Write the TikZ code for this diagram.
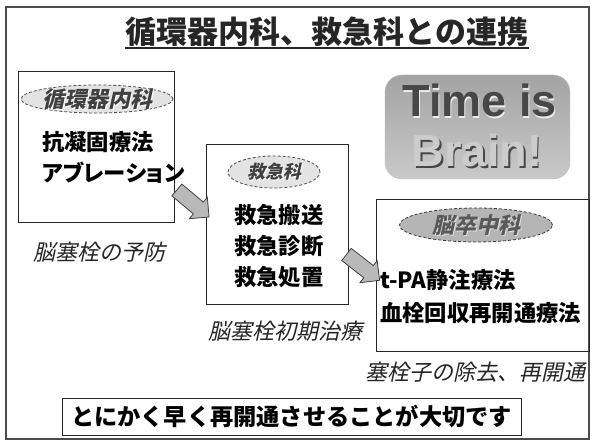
\documentclass[tikz,border=0pt]{standalone}
\usepackage{fontspec}
\setmainfont{Noto Sans CJK JP}
\newfontfamily\jpp[RawFeature=+palt]{Noto Sans CJK JP}
\newfontfamily\jpsl[FakeSlant=0.22]{Noto Sans CJK JP}
\newfontfamily\arb{Liberation Sans}
\usetikzlibrary{shapes.geometric,shapes.arrows,arrows.meta}
\tikzset{
  frame/.style={draw=gray!60!black, line width=2.5pt},
  box/.style={draw=black!85, line width=0.9pt, inner sep=0pt},
  item/.style={anchor=west, inner sep=0pt, font=\bfseries\fontsize{22.3}{22}\selectfont},
  label/.style={inner sep=0pt, font=\jpsl\fontsize{22}{22}\selectfont, text=black!85},
  dept/.style={ellipse, draw=gray!60!black, densely dashed, line width=0.8pt, inner sep=0pt},
  deptlbl/.style={inner sep=0pt, font=\jpsl\bfseries\fontsize{22}{22}\selectfont},
  tib/.style={inner sep=0pt, anchor=base, font=\arb\bfseries\fontsize{45}{45}\selectfont},
  blockarrow/.style={single arrow, draw=black!75, fill=gray!55, line width=0.8pt,
     minimum height=42pt, minimum width=28pt, single arrow head extend=6pt, inner sep=7pt}
}
\begin{document}
\begin{tikzpicture}[x=1pt,y=-1pt]
\useasboundingbox (0,0) rectangle (594,443);
\fill[white] (0,0) rectangle (594,443);
\draw[frame] (6,7) rectangle (589,439);

% title
\node[inner sep=0pt, anchor=base, font=\bfseries\fontsize{31}{31}\selectfont, text=black!85] (title) at (327,44) {循環器内科、救急科との連携};
\draw[line width=1.8pt, black!85] ([yshift=-4pt]title.base west) -- ([yshift=-4pt]title.base east);

% Time is Brain
\node[draw=gray!55, rounded corners=17pt, top color=gray!72, bottom color=gray!42,
      minimum width=185pt, minimum height=104pt, inner sep=0pt] (tibbox) at (477.5,127) {};
\node[tib, text=white!85!gray] at (480.5,118.5) {Time is};
\node[tib, text=black!72] (t1) at (479.5,117) {Time is};
\node[tib, text=black!72] at (478.5,168.5) {Brain!};
\node[tib, text=gray!40] (t2) at (477,167) {Brain!};

% box 1
\node[box, minimum width=156pt, minimum height=151pt] (b1) at (96,146.5) {};
\node[dept, fill=gray!22, minimum width=152pt, minimum height=28pt] (e1) at (97,99) {};
\node[deptlbl, text=white] at ([xshift=1pt,yshift=-1pt]e1.center) {循環器内科};
\node[deptlbl, text=black!75] (e1t) at (e1) {循環器内科};
\node[item] (b1a) at (42,142) {抗凝固療法};
\node[item, font=\jpp\bfseries\fontsize{22.3}{22}\selectfont] (b1b) at (42,173) {アブレーション};
\node[label, anchor=west] (l1) at (33,252) {脳塞栓の予防};

% box 2
\node[box, minimum width=142pt, minimum height=160pt] (b2) at (277,224) {};
\node[dept, fill=gray!22, minimum width=92pt, minimum height=32pt] (e2) at (274,172) {};
\node[deptlbl, font=\jpsl\bfseries\fontsize{18}{18}\selectfont, text=white] at ([xshift=1pt,yshift=-1pt]e2.center) {救急科};
\node[deptlbl, font=\jpsl\bfseries\fontsize{18}{18}\selectfont, text=black!75] (e2t) at (e2) {救急科};
\node[item] (b2a) at (234,215) {救急搬送};
\node[item] (b2b) at (234,246) {救急診断};
\node[item] (b2c) at (234,277) {救急処置};
\node[label, anchor=east] (l2) at (363,331) {脳塞栓初期治療};

% box 3
\node[box, minimum width=213pt, minimum height=152pt] (b3) at (482.5,275) {};
\node[dept, fill=gray!58, draw=gray!45!black, minimum width=153pt, minimum height=34pt] (e3) at (476,225) {};
\node[deptlbl, text=gray!25] at ([xshift=1pt,yshift=-1pt]e3.center) {脳卒中科};
\node[deptlbl, text=black!65] (e3t) at (e3) {脳卒中科};
\node[item] (b3a) at (380,280) {t-PA静注療法};
\node[item] (b3b) at (380,313) {血栓回収再開通療法};
\node[label, anchor=east] (l3) at (586,372) {塞栓子の除去、再開通};

% arrows
\node[blockarrow, rotate=-40] (ar1) at (190,201) {};
\node[blockarrow, rotate=-38] (ar2) at (360,265) {};

% bottom message
\node[box, line width=1pt, minimum width=459pt, minimum height=37pt,
      font=\bfseries\fontsize{23.2}{23}\selectfont] (msg) at (291.5,416.5) {とにかく早く再開通させることが大切です};
\end{tikzpicture}
\end{document}
